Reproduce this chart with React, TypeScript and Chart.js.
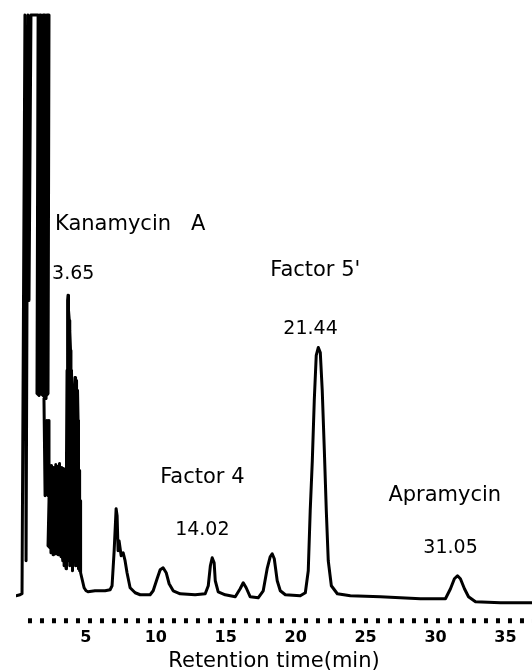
import React, { useEffect, useRef } from "react";
import { Chart, registerables } from "chart.js";

Chart.register(...registerables);

// Retention time (min) of each recorded point of the chromatogram trace
const retentionTimes: number[] = [
  0.0, 0.29, 0.43, 0.64, 0.72, 0.86, 0.93, 1.07,
  1.58, 1.5, 1.65, 1.72, 1.79, 1.79, 1.93, 1.93, 2.08, 2.0, 2.15, 2.22, 2.36,
  2.29, 2.0, 2.08, 2.22, 2.29, 2.36, 2.36, 2.29,
  2.43, 2.47, 2.5, 2.54, 2.58, 2.61, 2.65, 2.68, 2.72, 2.76, 2.79, 2.83, 2.86, 2.9, 2.94, 2.97,
  3.01, 3.04, 3.08, 3.11, 3.15, 3.19, 3.22, 3.26, 3.29, 3.33, 3.36, 3.4, 3.44, 3.47, 3.51, 3.54,
  3.58, 3.61,
  3.65, 3.69, 3.72, 3.74, 3.77, 3.81, 3.83, 3.86, 3.9, 3.93, 3.97, 4.01, 4.04, 4.08,
  4.12, 4.15, 4.19, 4.22, 4.26, 4.3, 4.33, 4.37, 4.4, 4.44, 4.47, 4.51, 4.55, 4.58, 4.62,
  4.72, 4.87, 5.01, 5.15,
  5.65, 6.37, 6.73, 6.87, 7.02, 7.16, 7.23, 7.3, 7.37, 7.52, 7.66, 7.8, 7.94, 8.16, 8.52, 8.88,
  9.59, 9.81, 10.09, 10.31, 10.52, 10.74, 10.95, 11.24, 11.74, 12.81,
  13.53, 13.75, 13.9, 14.03, 14.17, 14.25, 14.46, 14.96, 15.68, 16.03, 16.25, 16.46, 16.75,
  17.32, 17.68, 17.96, 18.18, 18.32, 18.47, 18.68, 18.9, 19.26, 20.33,
  20.69, 20.9, 21.04, 21.19, 21.33, 21.47, 21.62, 21.76, 21.9, 22.05, 22.19, 22.33, 22.55, 22.98,
  23.91, 26.06, 28.92, 30.71, 31.07, 31.35, 31.57, 31.78, 32.07, 32.36, 32.86, 34.65, 36.94,
];

// Detector response (arbitrary units) at each of the points above; 605 = recorder saturated
const detectorSignal: number[] = [
  25, 26, 27, 605, 60, 605, 320, 605,
  605, 227, 225, 605, 605, 227, 225, 605, 605, 225, 222, 605, 605,
  227, 222, 125, 200, 125, 200, 120, 75,
  73, 150, 68, 155, 70, 148, 66, 153, 71, 150, 67, 156, 69, 149, 72, 154,
  66, 151, 70, 157, 67, 150, 64, 153, 68, 148, 60, 152, 55, 150, 58, 145,
  52, 160,
  250, 320, 325, 60, 310, 300, 55, 290, 270, 60, 250, 200, 50, 150,
  60, 180, 235, 243, 55, 240, 238, 55, 230, 200, 52, 150, 50, 120, 48,
  42, 33, 30, 29,
  30, 30, 31, 35, 70, 112, 105, 70, 80, 65, 68, 60, 48, 33, 28, 26,
  26, 30, 42, 51, 53, 48, 37, 30, 27, 26,
  27, 35, 55, 63, 58, 40, 29, 26, 24, 32, 38, 33, 24,
  23, 30, 52, 64, 67, 62, 40, 30, 26, 25,
  28, 50, 110, 160, 220, 265, 273, 268, 230, 170, 110, 60, 35, 27,
  25, 24, 22, 22, 32, 42, 45, 42, 32, 24, 19, 18, 18,
];

// Labelled x-axis ticks (min)
const tickValues: number[] = [5, 10, 15, 20, 25, 30, 35];

// Peak annotations
const peakNames: string[] = ["Kanamycin   A", "Factor 5'", "Factor 4", "Apramycin"];
const peakTimeLabels: string[] = ["3.65", "21.44", "14.02", "31.05"];

// Layout of annotation text (in axis units: minutes / signal units)
const nameAnchors = [
  { x: 2.79, y: 396 },
  { x: 18.18, y: 350 },
  { x: 10.31, y: 143 },
  { x: 26.63, y: 125 },
];
const timeAnchors = [
  { x: 2.58, y: 346 },
  { x: 19.12, y: 291 },
  { x: 11.38, y: 91 },
  { x: 29.13, y: 73 },
];

const FONT = "'DejaVu Sans', 'Liberation Sans', sans-serif";

const decorPlugin = {
  id: "peakLabels",
  afterDatasetsDraw(chart: any) {
    const { ctx, scales } = chart;
    const xs = scales.x;
    const ys = scales.y;
    ctx.save();
    // dotted time axis
    ctx.strokeStyle = "#000";
    ctx.lineWidth = 5;
    ctx.setLineDash([4, 8]);
    ctx.beginPath();
    ctx.moveTo(xs.getPixelForValue(1) - 2, xs.top);
    ctx.lineTo(xs.right, xs.top);
    ctx.stroke();
    ctx.setLineDash([]);
    // peak labels
    ctx.fillStyle = "#000";
    ctx.textAlign = "left";
    ctx.textBaseline = "middle";
    ctx.font = `21px ${FONT}`;
    peakNames.forEach((name, i) => {
      ctx.fillText(name, xs.getPixelForValue(nameAnchors[i].x), ys.getPixelForValue(nameAnchors[i].y));
    });
    ctx.font = `19px ${FONT}`;
    peakTimeLabels.forEach((t, i) => {
      ctx.fillText(t, xs.getPixelForValue(timeAnchors[i].x), ys.getPixelForValue(timeAnchors[i].y));
    });
    ctx.restore();
  },
};

export default function App() {
  const canvasRef = useRef<HTMLCanvasElement | null>(null);

  useEffect(() => {
    if (!canvasRef.current) return;
    const points = retentionTimes.map((t, i) => ({ x: t, y: detectorSignal[i] }));
    const chart = new Chart(canvasRef.current, {
      type: "line",
      data: {
        datasets: [
          {
            data: points,
            borderColor: "#000",
            borderWidth: 3,
            pointRadius: 0,
            tension: 0,
            fill: false,
            borderJoinStyle: "round",
            borderCapStyle: "round",
          },
        ],
      },
      options: {
        responsive: false,
        animation: false,
        layout: { padding: { top: 13, left: 16, right: 0, bottom: 0 } },
        plugins: { legend: { display: false }, tooltip: { enabled: false } },
        scales: {
          x: {
            type: "linear",
            min: 0,
            max: 36.9,
            afterBuildTicks: (scale: any) => {
              scale.ticks = tickValues.map((v) => ({ value: v }));
            },
            ticks: {
              autoSkip: false,
              maxRotation: 0,
              padding: 7,
              color: "#000",
              font: { family: FONT, size: 16, weight: "bold" },
            },
            grid: { display: false, drawOnChartArea: false, drawTicks: false },
            border: { display: false },
            title: {
              display: true,
              text: "Retention time(min)",
              color: "#000",
              font: { family: FONT, size: 21, lineHeight: 1 },
              padding: { top: -3, bottom: 0 },
            },
          },
          y: { display: false, min: 0, max: 607 },
        },
      },
      plugins: [decorPlugin],
    });
    return () => chart.destroy();
  }, []);

  return (
    <div style={{ position: "absolute", left: 0, top: 0, width: 532, height: 672, background: "#fff" }}>
      <canvas ref={canvasRef} width={532} height={672} style={{ display: "block" }} />
    </div>
  );
}
